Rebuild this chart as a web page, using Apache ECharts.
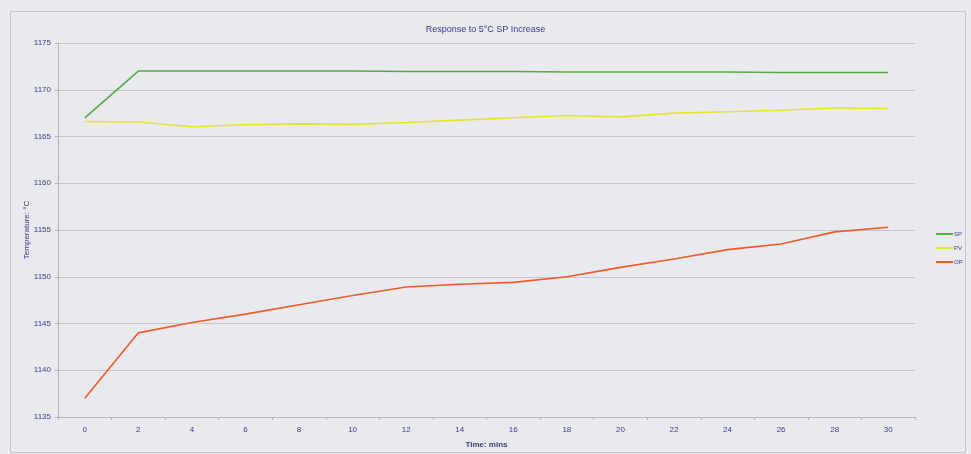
<!DOCTYPE html>
<html>
<head>
<meta charset="utf-8">
<script src="https://cdn.jsdelivr.net/npm/echarts@6/dist/echarts.min.js"></script>
<style>
  html, body { margin: 0; padding: 0; background: #e9eaee; }
  #chart { width: 971px; height: 454px; }
</style>
</head>
<body>
<div id="chart"></div>
<script>
// Time axis (minutes) and the three loop signals
const timeMins = ['0', '2', '4', '6', '8', '10', '12', '14', '16', '18', '20', '22', '24', '26', '28', '30'];
const spValues = [1167, 1172, 1172, 1172, 1172, 1172, 1171.95, 1171.95, 1171.95, 1171.9, 1171.9, 1171.9, 1171.9, 1171.85, 1171.85, 1171.85];
const pvValues = [1166.6, 1166.55, 1166.05, 1166.25, 1166.35, 1166.3, 1166.5, 1166.75, 1167.0, 1167.25, 1167.1, 1167.5, 1167.65, 1167.8, 1168.05, 1168.0];
const opValues = [1137, 1144, 1145.1, 1146, 1147, 1148, 1148.9, 1149.2, 1149.4, 1150, 1151, 1151.9, 1152.9, 1153.5, 1154.8, 1155.3];
const seriesNames = ['SP', 'PV', 'OP'];
const seriesColors = ['#5aa84a', '#e4e42c', '#f05a2a'];

const textColor = '#3d3a8a';
const chart = echarts.init(document.getElementById('chart'));

const dataSets = [spValues, pvValues, opValues];

chart.setOption({
  backgroundColor: '#e9eaee',
  animation: false,
  title: {
    text: 'Response to 5°C SP Increase',
    left: 'center',
    top: 20,
    textStyle: { color: textColor, fontSize: 9, fontWeight: 'normal', fontFamily: 'Liberation Sans' }
  },
  graphic: [{
    type: 'rect',
    shape: { x: 10.5, y: 11.5, width: 955, height: 441 },
    style: { fill: 'none', stroke: '#c4c5cc', lineWidth: 1 },
    silent: true
  }],
  legend: {
    orient: 'vertical',
    left: 931,
    top: 226,
    itemWidth: 17,
    itemHeight: 2,
    itemGap: 8,
    icon: 'rect',
    data: seriesNames.map(function (n, i) {
      return { name: n, itemStyle: { color: seriesColors[i] } };
    }),
    textStyle: { color: textColor, fontSize: 6, fontFamily: 'Liberation Sans', padding: [0, 0, 0, -4] }
  },
  grid: { left: 58, right: 56, top: 43, bottom: 36 },
  xAxis: {
    type: 'category',
    data: timeMins,
    boundaryGap: true,
    name: 'Time: mins',
    nameLocation: 'middle',
    nameGap: 24,
    nameTextStyle: { color: textColor, fontSize: 8, fontWeight: 'bold', fontFamily: 'Liberation Sans' },
    axisLine: { lineStyle: { color: '#b4b5bd', width: 1 } },
    axisTick: { show: true, length: 3, lineStyle: { color: '#b4b5bd' } },
    axisLabel: { color: textColor, fontSize: 8, margin: 9, fontFamily: 'Liberation Sans' },
    splitLine: { show: false }
  },
  yAxis: {
    type: 'value',
    min: 1135,
    max: 1175,
    interval: 5,
    name: 'Temperature: °C',
    nameLocation: 'middle',
    nameGap: 27,
    nameMoveOverlap: false,
    nameTextStyle: { color: textColor, fontSize: 8, fontFamily: 'Liberation Sans' },
    axisLine: { show: true, lineStyle: { color: '#b4b5bd', width: 1 } },
    axisTick: { show: true, length: 3, lineStyle: { color: '#b4b5bd' } },
    axisLabel: {
      color: textColor, fontSize: 8, margin: 7, fontFamily: 'Liberation Sans',
      formatter: function (v) { return String(v); }
    },
    splitLine: { lineStyle: { color: '#c6c7cf', width: 1.2 } }
  },
  series: seriesNames.map(function (n, i) {
    return {
      name: n,
      type: 'line',
      data: dataSets[i],
      symbol: 'none',
      color: seriesColors[i],
      lineStyle: { color: seriesColors[i], width: 1.6 }
    };
  })
});
</script>
</body>
</html>
